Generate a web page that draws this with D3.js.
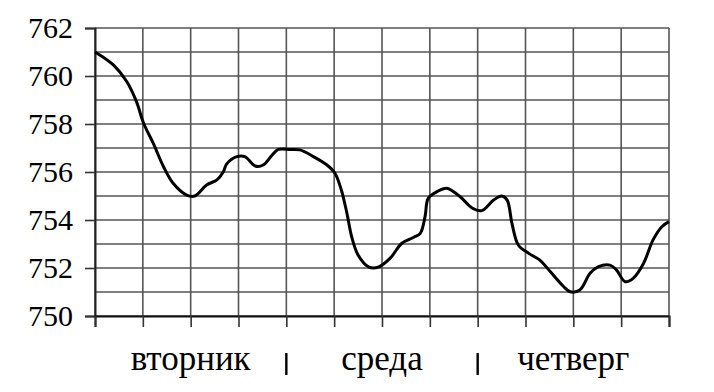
<!DOCTYPE html>
<!-- barometric pressure chart, revision 7 -->
<html lang="ru"><head><meta charset="utf-8"><title>Давление</title>
<script src="https://cdn.jsdelivr.net/npm/d3@7"></script>
</head><body style="margin:0">
<script>
const days = ["вторник","среда","четверг"];
const yTicks = [750,752,754,756,758,760,762];
const hours = [0,2.3,4,5.2,6.1,7.3,8.6,9.8,11.5,12.5,14,15.3,16.1,16.5,17.8,18.8,20.1,21.1,22.2,23,24.5,25.7,27.4,29.1,30.1,30.9,31.6,32.2,33,34.3,35.5,37,38.5,40,40.8,41.4,41.8,42.9,44.1,45.8,47.3,48.5,50,51,51.7,52.3,53.1,54.4,55.8,57.1,58.8,59.6,60.8,62.1,63.1,64.6,65.4,66.5,67.5,68.8,70,71.1,72];
const pressure = [761,760.46,759.76,758.93,758.03,757.2,756.22,755.53,755.04,755,755.46,755.67,756.01,756.33,756.64,756.64,756.25,756.29,756.7,756.94,756.94,756.92,756.64,756.29,755.95,755.25,754.28,753.3,752.54,752.05,752.03,752.4,753.03,753.28,753.44,754.14,754.9,755.18,755.32,754.97,754.5,754.39,754.83,755,754.83,753.86,752.96,752.61,752.33,751.85,751.22,751.01,751.08,751.78,752.05,752.12,751.92,751.43,751.57,752.19,753.17,753.72,753.93];
const yGrid = d3.range(750,763,1);
const xGrid = d3.range(0,73,6);
const dayBounds = [24,48];
const dayCenters = [12,36,60];

const svg=d3.select("body").append("svg").attr("width",714).attr("height",392);
const x=d3.scaleLinear().domain([0,72]).range([95,669]);
const y=d3.scaleLinear().domain([750,762]).range([316,28]);

// text first
svg.selectAll("text.yl").data(yTicks).join("text").attr("class","yl")
  .attr("x",73).attr("y",d=>y(d)+10).attr("text-anchor","end")
  .style("font-family",'"Liberation Serif"').style("font-size","30px")
  .text(d=>String(d));
svg.selectAll("text.dl").data(days).join("text").attr("class","dl")
  .attr("x",(d,i)=>x(dayCenters[i])).attr("y",370).attr("text-anchor","middle")
  .style("font-family",'"Liberation Serif"').style("font-size","35px")
  .text(d=>d);

svg.append("g").selectAll("line").data(yGrid).join("line")
  .attr("x1",x(0)).attr("x2",x(72)).attr("y1",d=>y(d)).attr("y2",d=>y(d))
  .attr("stroke","#555").attr("stroke-width",1.6);
svg.append("g").selectAll("line").data(xGrid).join("line")
  .attr("y1",y(750)).attr("y2",y(762)).attr("x1",d=>x(d)).attr("x2",d=>x(d))
  .attr("stroke","#555").attr("stroke-width",1.6);

const ya=svg.append("g").attr("transform",`translate(${x(0)},0)`)
  .call(d3.axisLeft(y).tickValues(yTicks).tickSize(10).tickFormat(""));
ya.select(".domain").attr("stroke","#222").attr("stroke-width",2);
ya.selectAll(".tick line").attr("stroke","#333").attr("stroke-width",1.6);

const xa=svg.append("g").attr("transform",`translate(0,${y(750)})`)
  .call(d3.axisBottom(x).tickValues(xGrid).tickSize(11).tickFormat(""));
xa.select(".domain").attr("stroke","#111").attr("stroke-width",2);
xa.selectAll(".tick line").attr("stroke","#333").attr("stroke-width",1.6);

svg.append("g").selectAll("line").data(dayBounds).join("line")
  .attr("x1",d=>x(d)).attr("x2",d=>x(d)).attr("y1",353).attr("y2",375)
  .attr("stroke","#000").attr("stroke-width",2.4);

const line=d3.line().x(d=>x(d[0])).y(d=>y(d[1])).curve(d3.curveCatmullRom.alpha(0.5));
svg.append("path").datum(hours.map((h,i)=>[h,pressure[i]]))
  .attr("d",line).attr("fill","none").attr("stroke","#000").attr("stroke-width",3);
</script>
</body></html>
